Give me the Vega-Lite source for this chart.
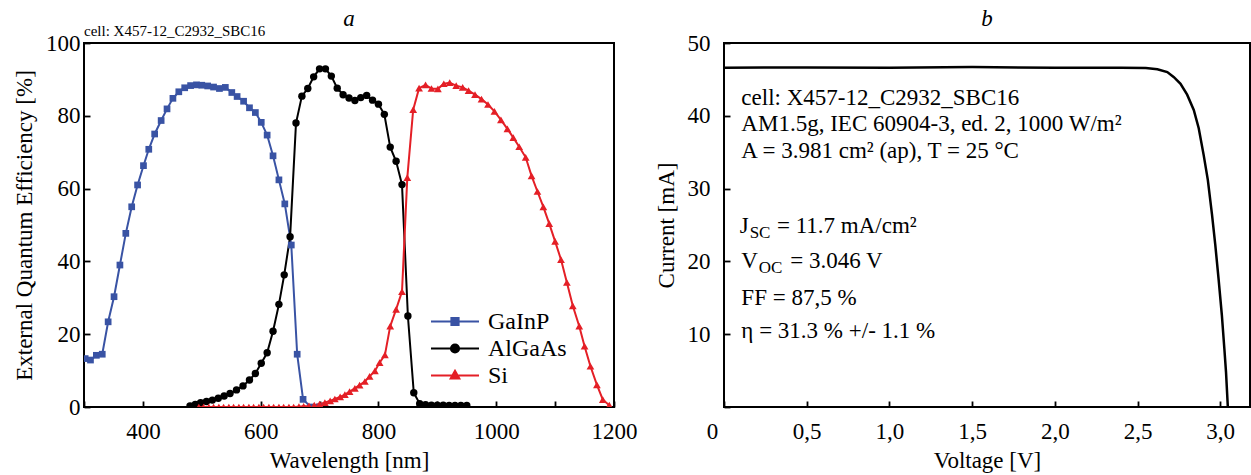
{
  "$schema": "https://vega.github.io/schema/vega-lite/v6.json",
  "autosize": {"type": "pad"},
  "padding": {"left": 11, "top": 6, "right": 0, "bottom": 0},
  "background": "white",
  "bounds": "flush",
  "spacing": 110,
  "config": {
    "font": "Liberation Serif",
    "view": {"stroke": "black", "strokeWidth": 2},
    "title": {"font": "Liberation Serif", "fontStyle": "italic", "fontWeight": "normal", "fontSize": 23, "color": "black", "anchor": "middle"},
    "axis": {
      "labelFont": "Liberation Serif", "titleFont": "Liberation Serif",
      "labelColor": "black", "titleColor": "black", "tickColor": "black",
      "domain": false, "grid": false, "labelFontSize": 23, "titleFontSize": 23,
      "titleFontWeight": "normal", "ticks": true, "tickSize": 6, "tickWidth": 1.8, "offset": -6, "zindex": 1,
      "labelOverlap": false, "labelFlush": false, "labelPadding": 4
    }
  },
  "hconcat": [
    {
      "width": 530,
      "height": 364,
      "title": {"text": "a", "offset": -7},
      "data": {"values": [
        {"cell": "GaInP", "wl": 302, "eqe": 13.3}, {"cell": "GaInP", "wl": 311, "eqe": 12.9}, {"cell": "GaInP", "wl": 321, "eqe": 14.2}, {"cell": "GaInP", "wl": 331, "eqe": 14.5},
        {"cell": "GaInP", "wl": 341, "eqe": 23.4}, {"cell": "GaInP", "wl": 351, "eqe": 30.3}, {"cell": "GaInP", "wl": 361, "eqe": 39.0}, {"cell": "GaInP", "wl": 371, "eqe": 47.7},
        {"cell": "GaInP", "wl": 381, "eqe": 55.0}, {"cell": "GaInP", "wl": 391, "eqe": 61.0}, {"cell": "GaInP", "wl": 401, "eqe": 66.3}, {"cell": "GaInP", "wl": 410, "eqe": 70.8},
        {"cell": "GaInP", "wl": 420, "eqe": 75.0}, {"cell": "GaInP", "wl": 431, "eqe": 78.7}, {"cell": "GaInP", "wl": 441, "eqe": 81.9}, {"cell": "GaInP", "wl": 451, "eqe": 84.8},
        {"cell": "GaInP", "wl": 461, "eqe": 86.6}, {"cell": "GaInP", "wl": 471, "eqe": 87.7}, {"cell": "GaInP", "wl": 481, "eqe": 88.3}, {"cell": "GaInP", "wl": 491, "eqe": 88.5},
        {"cell": "GaInP", "wl": 500, "eqe": 88.4}, {"cell": "GaInP", "wl": 510, "eqe": 88.2}, {"cell": "GaInP", "wl": 520, "eqe": 87.9}, {"cell": "GaInP", "wl": 530, "eqe": 87.5},
        {"cell": "GaInP", "wl": 540, "eqe": 87.8}, {"cell": "GaInP", "wl": 551, "eqe": 86.4}, {"cell": "GaInP", "wl": 560, "eqe": 85.3}, {"cell": "GaInP", "wl": 571, "eqe": 84.0},
        {"cell": "GaInP", "wl": 581, "eqe": 82.2}, {"cell": "GaInP", "wl": 591, "eqe": 80.9}, {"cell": "GaInP", "wl": 601, "eqe": 78.2}, {"cell": "GaInP", "wl": 611, "eqe": 74.7},
        {"cell": "GaInP", "wl": 621, "eqe": 69.0}, {"cell": "GaInP", "wl": 631, "eqe": 62.4}, {"cell": "GaInP", "wl": 641, "eqe": 55.8}, {"cell": "GaInP", "wl": 652, "eqe": 44.5},
        {"cell": "GaInP", "wl": 662, "eqe": 14.5}, {"cell": "GaInP", "wl": 672, "eqe": 2.1}, {"cell": "GaInP", "wl": 685, "eqe": 0}, {"cell": "GaInP", "wl": 700, "eqe": 0},

        {"cell": "AlGaAs", "wl": 480, "eqe": 0.3}, {"cell": "AlGaAs", "wl": 489, "eqe": 0.7}, {"cell": "AlGaAs", "wl": 498, "eqe": 1.2}, {"cell": "AlGaAs", "wl": 508, "eqe": 1.5},
        {"cell": "AlGaAs", "wl": 518, "eqe": 1.9}, {"cell": "AlGaAs", "wl": 528, "eqe": 2.4}, {"cell": "AlGaAs", "wl": 538, "eqe": 3.0}, {"cell": "AlGaAs", "wl": 548, "eqe": 3.7},
        {"cell": "AlGaAs", "wl": 559, "eqe": 4.7}, {"cell": "AlGaAs", "wl": 570, "eqe": 5.8}, {"cell": "AlGaAs", "wl": 581, "eqe": 7.4}, {"cell": "AlGaAs", "wl": 591, "eqe": 9.2},
        {"cell": "AlGaAs", "wl": 601, "eqe": 12.0}, {"cell": "AlGaAs", "wl": 611, "eqe": 14.9}, {"cell": "AlGaAs", "wl": 621, "eqe": 20.8}, {"cell": "AlGaAs", "wl": 631, "eqe": 28.2},
        {"cell": "AlGaAs", "wl": 640, "eqe": 36.3}, {"cell": "AlGaAs", "wl": 650, "eqe": 46.8}, {"cell": "AlGaAs", "wl": 660, "eqe": 78.0}, {"cell": "AlGaAs", "wl": 670, "eqe": 85.4},
        {"cell": "AlGaAs", "wl": 680, "eqe": 87.5}, {"cell": "AlGaAs", "wl": 690, "eqe": 90.7}, {"cell": "AlGaAs", "wl": 700, "eqe": 92.9}, {"cell": "AlGaAs", "wl": 710, "eqe": 92.9},
        {"cell": "AlGaAs", "wl": 720, "eqe": 90.9}, {"cell": "AlGaAs", "wl": 730, "eqe": 87.6}, {"cell": "AlGaAs", "wl": 740, "eqe": 85.8}, {"cell": "AlGaAs", "wl": 750, "eqe": 84.9},
        {"cell": "AlGaAs", "wl": 760, "eqe": 84.2}, {"cell": "AlGaAs", "wl": 770, "eqe": 85.0}, {"cell": "AlGaAs", "wl": 780, "eqe": 85.6}, {"cell": "AlGaAs", "wl": 790, "eqe": 84.3},
        {"cell": "AlGaAs", "wl": 800, "eqe": 83.2}, {"cell": "AlGaAs", "wl": 810, "eqe": 80.4}, {"cell": "AlGaAs", "wl": 820, "eqe": 71.4}, {"cell": "AlGaAs", "wl": 830, "eqe": 67.5},
        {"cell": "AlGaAs", "wl": 840, "eqe": 61.1}, {"cell": "AlGaAs", "wl": 850, "eqe": 25.0}, {"cell": "AlGaAs", "wl": 860, "eqe": 3.9}, {"cell": "AlGaAs", "wl": 870, "eqe": 0.9},
        {"cell": "AlGaAs", "wl": 880, "eqe": 0.6}, {"cell": "AlGaAs", "wl": 890, "eqe": 0.5}, {"cell": "AlGaAs", "wl": 900, "eqe": 0.5}, {"cell": "AlGaAs", "wl": 910, "eqe": 0.5},
        {"cell": "AlGaAs", "wl": 920, "eqe": 0.4}, {"cell": "AlGaAs", "wl": 930, "eqe": 0.4}, {"cell": "AlGaAs", "wl": 940, "eqe": 0.4}, {"cell": "AlGaAs", "wl": 950, "eqe": 0.4},

        {"cell": "Si", "wl": 495, "eqe": 0}, {"cell": "Si", "wl": 503, "eqe": 0}, {"cell": "Si", "wl": 512, "eqe": 0}, {"cell": "Si", "wl": 520, "eqe": 0},
        {"cell": "Si", "wl": 529, "eqe": 0}, {"cell": "Si", "wl": 537, "eqe": 0}, {"cell": "Si", "wl": 546, "eqe": 0}, {"cell": "Si", "wl": 554, "eqe": 0},
        {"cell": "Si", "wl": 563, "eqe": 0}, {"cell": "Si", "wl": 571, "eqe": 0}, {"cell": "Si", "wl": 580, "eqe": 0}, {"cell": "Si", "wl": 588, "eqe": 0},
        {"cell": "Si", "wl": 597, "eqe": 0}, {"cell": "Si", "wl": 605, "eqe": 0}, {"cell": "Si", "wl": 614, "eqe": 0}, {"cell": "Si", "wl": 622, "eqe": 0},
        {"cell": "Si", "wl": 631, "eqe": 0}, {"cell": "Si", "wl": 639, "eqe": 0}, {"cell": "Si", "wl": 648, "eqe": 0}, {"cell": "Si", "wl": 656, "eqe": 0},
        {"cell": "Si", "wl": 665, "eqe": 0.1}, {"cell": "Si", "wl": 673, "eqe": 0.2}, {"cell": "Si", "wl": 682, "eqe": 0.3}, {"cell": "Si", "wl": 691, "eqe": 0.5},
        {"cell": "Si", "wl": 700, "eqe": 0.8}, {"cell": "Si", "wl": 709, "eqe": 1.2}, {"cell": "Si", "wl": 718, "eqe": 1.7}, {"cell": "Si", "wl": 726, "eqe": 2.2},
        {"cell": "Si", "wl": 735, "eqe": 2.8}, {"cell": "Si", "wl": 743, "eqe": 3.4}, {"cell": "Si", "wl": 751, "eqe": 4.2}, {"cell": "Si", "wl": 760, "eqe": 5.1},
        {"cell": "Si", "wl": 768, "eqe": 6.0}, {"cell": "Si", "wl": 777, "eqe": 7.0}, {"cell": "Si", "wl": 785, "eqe": 8.4}, {"cell": "Si", "wl": 794, "eqe": 9.9},
        {"cell": "Si", "wl": 802, "eqe": 12.2}, {"cell": "Si", "wl": 811, "eqe": 14.3}, {"cell": "Si", "wl": 820, "eqe": 22.2}, {"cell": "Si", "wl": 830, "eqe": 26.8},
        {"cell": "Si", "wl": 840, "eqe": 31.7}, {"cell": "Si", "wl": 849, "eqe": 63.0}, {"cell": "Si", "wl": 859, "eqe": 81.7}, {"cell": "Si", "wl": 869, "eqe": 87.6},
        {"cell": "Si", "wl": 880, "eqe": 88.5}, {"cell": "Si", "wl": 890, "eqe": 87.5}, {"cell": "Si", "wl": 901, "eqe": 87.4}, {"cell": "Si", "wl": 911, "eqe": 88.8},
        {"cell": "Si", "wl": 921, "eqe": 89.1}, {"cell": "Si", "wl": 932, "eqe": 88.3}, {"cell": "Si", "wl": 943, "eqe": 87.8}, {"cell": "Si", "wl": 953, "eqe": 86.9},
        {"cell": "Si", "wl": 964, "eqe": 85.8}, {"cell": "Si", "wl": 975, "eqe": 84.6}, {"cell": "Si", "wl": 986, "eqe": 83.1}, {"cell": "Si", "wl": 997, "eqe": 81.2},
        {"cell": "Si", "wl": 1008, "eqe": 78.9}, {"cell": "Si", "wl": 1019, "eqe": 76.4}, {"cell": "Si", "wl": 1029, "eqe": 74.0}, {"cell": "Si", "wl": 1039, "eqe": 71.5},
        {"cell": "Si", "wl": 1050, "eqe": 68.6}, {"cell": "Si", "wl": 1060, "eqe": 63.5}, {"cell": "Si", "wl": 1070, "eqe": 59.2}, {"cell": "Si", "wl": 1080, "eqe": 55.0},
        {"cell": "Si", "wl": 1090, "eqe": 50.4}, {"cell": "Si", "wl": 1100, "eqe": 45.5}, {"cell": "Si", "wl": 1110, "eqe": 40.5}, {"cell": "Si", "wl": 1120, "eqe": 34.2},
        {"cell": "Si", "wl": 1130, "eqe": 27.8}, {"cell": "Si", "wl": 1141, "eqe": 22.2}, {"cell": "Si", "wl": 1150, "eqe": 16.7}, {"cell": "Si", "wl": 1160, "eqe": 11.2},
        {"cell": "Si", "wl": 1171, "eqe": 6.1}, {"cell": "Si", "wl": 1181, "eqe": 2.0}, {"cell": "Si", "wl": 1192, "eqe": 0.5}
      ]},
      "layer": [
        {
          "mark": {"type": "line", "clip": true, "strokeWidth": 2},
          "encoding": {
            "x": {"field": "wl", "type": "quantitative", "scale": {"domain": [300, 1200], "nice": false, "zero": false},
              "axis": {"values": [300, 400, 500, 600, 700, 800, 900, 1000, 1100, 1200], "format": "d", "labelPadding": 13,
                "labelExpr": "datum.value % 200 === 0 ? datum.label : ''",
                "title": "Wavelength [nm]", "titleX": 265, "titleY": 59, "titleBaseline": "middle", "titleAlign": "center"}},
            "y": {"field": "eqe", "type": "quantitative", "scale": {"domain": [0, 100], "nice": false},
              "axis": {"values": [0, 10, 20, 30, 40, 50, 60, 70, 80, 90, 100], "format": "d", "labelPadding": 4,
                "labelExpr": "datum.value % 20 === 0 ? datum.label : ''",
                "title": "External Quantum Efficiency [%]", "titleX": -66, "titleY": 182, "titleBaseline": "middle", "titleAlign": "center", "titleAngle": 270}},
            "color": {"field": "cell", "type": "nominal",
              "scale": {"domain": ["GaInP", "AlGaAs", "Si"], "range": ["#3953a4", "#000000", "#e41f26"]},
              "legend": {"orient": "none", "legendX": 346, "legendY": 265, "title": null, "padding": 0, "rowPadding": 0,
                "clipHeight": 27, "symbolSize": 2304, "symbolStrokeWidth": 2, "symbolType": "M-1,0H1",
                "labelFont": "Liberation Serif", "labelFontSize": 24, "labelColor": "black", "labelOffset": 8,
                "encode": {"symbols": {"update": {
                  "shape": {"signal": "datum.value === 'GaInP' ? 'M-1,0H1M-0.15,-0.15H0.15V0.15H-0.15Z' : datum.value === 'AlGaAs' ? 'M-1,0H1M0.17,0A0.17,0.17,0,1,1,-0.17,0A0.17,0.17,0,1,1,0.17,0Z' : 'M-1,0H1M0,-0.2L0.18,0.12L-0.18,0.12Z'"},
                  "fill": {"signal": "datum.value === 'GaInP' ? '#3953a4' : datum.value === 'AlGaAs' ? '#000000' : '#e41f26'"},
                  "stroke": {"signal": "datum.value === 'GaInP' ? '#3953a4' : datum.value === 'AlGaAs' ? '#000000' : '#e41f26'"},
                  "opacity": {"value": 1},
                  "strokeWidth": {"value": 2}
                }}}}}
          }
        },
        {
          "transform": [{"filter": "datum.cell === 'GaInP'"}],
          "mark": {"type": "point", "shape": "square", "filled": true, "clip": true, "opacity": 1, "color": "#3953a4", "size": 45},
          "encoding": {"x": {"field": "wl", "type": "quantitative"}, "y": {"field": "eqe", "type": "quantitative"}}
        },
        {
          "transform": [{"filter": "datum.cell === 'AlGaAs'"}],
          "mark": {"type": "point", "shape": "circle", "filled": true, "clip": true, "opacity": 1, "color": "#000000", "size": 55},
          "encoding": {"x": {"field": "wl", "type": "quantitative"}, "y": {"field": "eqe", "type": "quantitative"}}
        },
        {
          "transform": [{"filter": "datum.cell === 'Si'"}],
          "mark": {"type": "point", "shape": "triangle-up", "filled": true, "clip": true, "opacity": 1, "color": "#e41f26", "size": 60},
          "encoding": {"x": {"field": "wl", "type": "quantitative"}, "y": {"field": "eqe", "type": "quantitative"}}
        },
        {
          "data": {"values": [{"label": "cell: X457-12_C2932_SBC16", "wl": 300, "eqe": 103.3}]},
          "mark": {"type": "text", "align": "left", "baseline": "middle", "fontSize": 15, "font": "Liberation Serif", "color": "black"},
          "encoding": {
            "x": {"field": "wl", "type": "quantitative"},
            "y": {"field": "eqe", "type": "quantitative"},
            "text": {"field": "label"}
          }
        }
      ]
    },
    {
      "width": 526,
      "height": 364,
      "title": {"text": "b", "offset": 1},
      "layer": [
        {
          "data": {"values": [
            {"V": 0.0, "I": 46.6}, {"V": 0.5, "I": 46.65}, {"V": 1.0, "I": 46.6}, {"V": 1.5, "I": 46.7}, {"V": 2.0, "I": 46.6},
            {"V": 2.4, "I": 46.6}, {"V": 2.55, "I": 46.55}, {"V": 2.62, "I": 46.4}, {"V": 2.68, "I": 46.0}, {"V": 2.72, "I": 45.3},
            {"V": 2.76, "I": 44.4}, {"V": 2.8, "I": 42.9}, {"V": 2.84, "I": 40.8}, {"V": 2.87, "I": 38.3}, {"V": 2.9, "I": 34.6},
            {"V": 2.925, "I": 31.2}, {"V": 2.95, "I": 26.5}, {"V": 2.97, "I": 22.3}, {"V": 2.99, "I": 17.6}, {"V": 3.01, "I": 12.6},
            {"V": 3.025, "I": 8.0}, {"V": 3.035, "I": 4.8}, {"V": 3.046, "I": 0}
          ]},
          "mark": {"type": "line", "color": "black", "strokeWidth": 2.5, "clip": true},
          "encoding": {
            "x": {"field": "V", "type": "quantitative", "scale": {"domain": [0, 3.18], "nice": false, "zero": false},
              "axis": {"values": [0, 0.5, 1, 1.5, 2, 2.5, 3], "labelPadding": 13,
                "labelExpr": "datum.value === 0 ? '0' : replace(format(datum.value, '.1f'), '.', ',')",
                "labelOffset": {"condition": {"test": "datum.value === 0", "value": -12}, "value": 0},
                "title": "Voltage [V]", "titleX": 263, "titleY": 59, "titleBaseline": "middle", "titleAlign": "center"}},
            "y": {"field": "I", "type": "quantitative", "scale": {"domain": [0, 50], "nice": false},
              "axis": {"values": [0, 5, 10, 15, 20, 25, 30, 35, 40, 45, 50], "format": "d", "labelPadding": 14,
                "labelExpr": "datum.value % 10 === 0 && datum.value > 0 ? datum.label : ''",
                "title": "Current [mA]", "titleX": -64, "titleY": 182, "titleBaseline": "middle", "titleAlign": "center", "titleAngle": 270}}
          }
        },
        {
          "data": {"values": [
            {"V": 0.105, "I": 42.5, "t": "cell: X457-12_C2932_SBC16"},
            {"V": 0.105, "I": 38.85, "t": "AM1.5g, IEC 60904-3, ed. 2, 1000 W/m²"},
            {"V": 0.105, "I": 35.2, "t": "A = 3.981 cm² (ap), T = 25 °C"},
            {"V": 0.095, "I": 24.8, "t": "J"},
            {"V": 0.32, "I": 24.8, "t": "= 11.7 mA/cm²"},
            {"V": 0.105, "I": 20.0, "t": "V"},
            {"V": 0.40, "I": 20.0, "t": "= 3.046 V"},
            {"V": 0.105, "I": 15.0, "t": "FF = 87,5 %"},
            {"V": 0.105, "I": 10.45, "t": "η = 31.3 % +/- 1.1 %"}
          ]},
          "mark": {"type": "text", "align": "left", "baseline": "middle", "fontSize": 23, "font": "Liberation Serif", "color": "black"},
          "encoding": {
            "x": {"field": "V", "type": "quantitative"},
            "y": {"field": "I", "type": "quantitative"},
            "text": {"field": "t"}
          }
        },
        {
          "data": {"values": [
            {"V": 0.155, "I": 24.8, "t": "SC"},
            {"V": 0.21, "I": 20.0, "t": "OC"}
          ]},
          "mark": {"type": "text", "align": "left", "baseline": "middle", "fontSize": 17, "dy": 7, "font": "Liberation Serif", "color": "black"},
          "encoding": {
            "x": {"field": "V", "type": "quantitative"},
            "y": {"field": "I", "type": "quantitative"},
            "text": {"field": "t"}
          }
        }
      ]
    }
  ]
}
